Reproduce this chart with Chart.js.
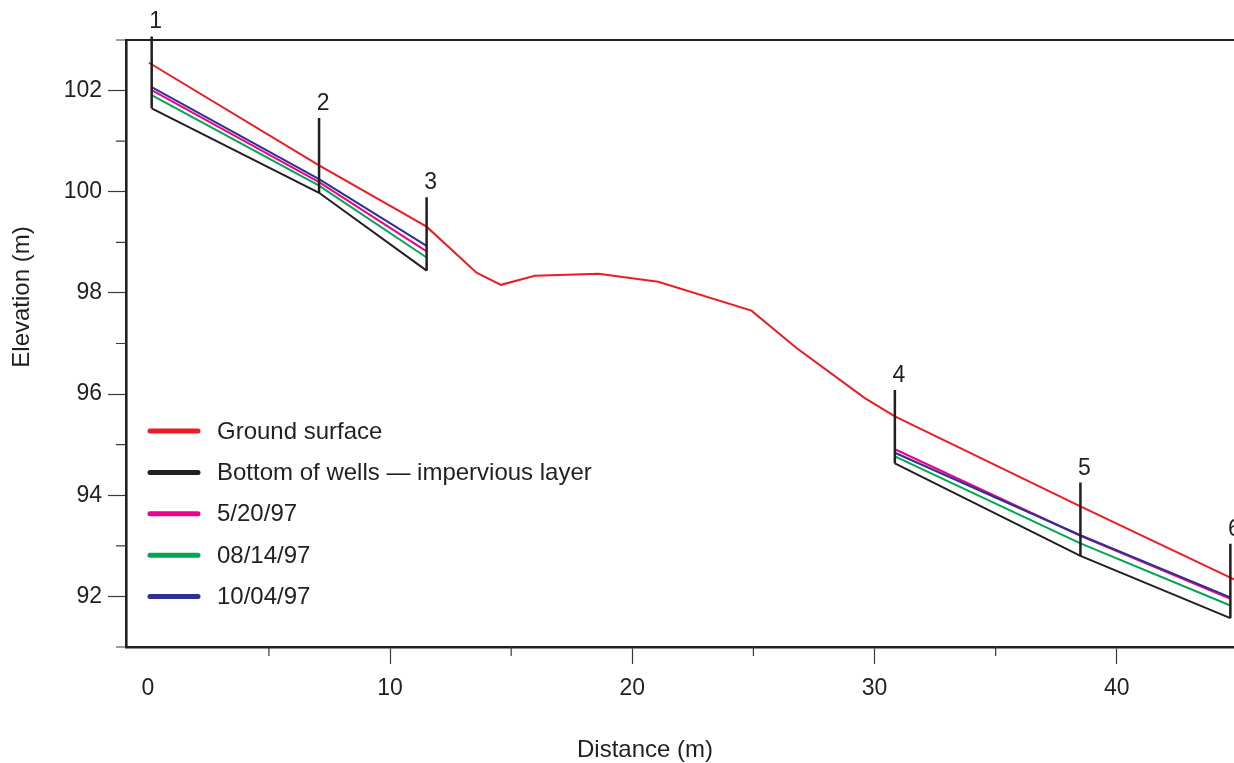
<!DOCTYPE html>
<html>
<head>
<meta charset="utf-8">
<title>Well transect profile</title>
<script src="https://cdn.jsdelivr.net/npm/chart.js@4.4.1/dist/chart.umd.min.js"></script>
<style>
  html, body { margin: 0; padding: 0; background: #fff; }
  #wrap { width: 1234px; height: 763px; }
</style>
</head>
<body>
<div id="wrap"><canvas id="profileChart" width="1234" height="763"></canvas></div>
<script>
// --- Data ---
const groundX = [0.05, 7.07, 11.51, 13.57, 14.58, 15.98, 18.60, 21.07, 24.92, 26.78, 29.60, 30.84, 38.50, 44.69, 45.20];
const groundY = [102.55, 100.52, 99.31, 98.40, 98.16, 98.34, 98.38, 98.22, 97.65, 96.91, 95.92, 95.56, 93.78, 92.37, 92.25];

const wellNames  = ['1', '2', '3', '4', '5', '6'];
const wellX      = [0.16, 7.07, 11.51, 30.84, 38.50, 44.69];
const wellBottom = [101.65, 99.98, 98.44, 94.63, 92.80, 91.57];
const wellTop    = [103.07, 101.46, 99.89, 96.08, 94.25, 93.04];

const levelMay20 = [102.01, 100.19, 98.82, 94.91, 93.20, 91.95];
const levelAug14 = [101.91, 100.12, 98.70, 94.77, 93.05, 91.82];
const levelOct04 = [102.07, 100.25, 98.93, 94.84, 93.21, 91.98];

// wells 1-3 and 4-6 are two separate transect pieces
const wellGroups = [[0, 1, 2], [3, 4, 5]];

const xMajorTicks = [0, 10, 20, 30, 40];
const xMinorTicks = [5, 15, 25, 35];
const yMajorTicks = [92, 94, 96, 98, 100, 102];
const yMinorTicks = [91, 93, 95, 97, 99, 101, 103];

// --- Styles ---
const INK = '#231f20';
const TICK = '#3a3a3a';
const RED = '#ed1c24';
const PINK = '#ec008c';
const GREEN = '#00a651';
const BLUE = '#2e3192';
const FONT = '"Liberation Sans", Arial, Helvetica, sans-serif';

function groupedPoints(values) {
    const pts = [];
    wellGroups.forEach((g, gi) => {
        g.forEach(i => pts.push({ x: wellX[i], y: values[i] }));
        if (gi < wellGroups.length - 1) {
            const next = wellGroups[gi + 1][0];
            pts.push({ x: (wellX[g[g.length - 1]] + wellX[next]) / 2, y: null });
        }
    });
    return pts;
}

function wellPoints() {
    const pts = [];
    wellX.forEach((x, i) => {
        pts.push({ x: x, y: wellBottom[i] });
        pts.push({ x: x, y: wellTop[i] });
        pts.push({ x: x, y: null });
    });
    return pts;
}

// --- Plugins: minor ticks, frame, well numbers, legend, axis titles ---
const decorations = {
    id: 'decorations',
    afterDraw(chart) {
        const { ctx, chartArea: a } = chart;
        const xs = chart.scales.x, ys = chart.scales.y;
        ctx.save();

        // minor ticks
        ctx.strokeStyle = TICK;
        ctx.lineWidth = 1.2;
        ctx.beginPath();
        xMinorTicks.forEach(v => {
            const px = xs.getPixelForValue(v);
            ctx.moveTo(px, a.bottom);
            ctx.lineTo(px, a.bottom + 9);
        });
        yMinorTicks.forEach(v => {
            const py = ys.getPixelForValue(v);
            ctx.moveTo(a.left - 10, py);
            ctx.lineTo(a.left, py);
        });
        ctx.stroke();

        // top frame line
        ctx.strokeStyle = INK;
        ctx.lineWidth = 2.2;
        ctx.beginPath();
        ctx.moveTo(a.left - 1, a.top);
        ctx.lineTo(a.right, a.top);
        ctx.stroke();

        // well numbers
        ctx.fillStyle = INK;
        ctx.font = '23px ' + FONT;
        ctx.textAlign = 'center';
        ctx.textBaseline = 'alphabetic';
        wellX.forEach((x, i) => {
            ctx.fillText(wellNames[i], xs.getPixelForValue(x) + 4, ys.getPixelForValue(wellTop[i]) - 8);
        });

        // legend
        const items = chart.data.datasets.filter(d => d.legendLabel);
        items.sort((p, q) => p.legendRank - q.legendRank);
        ctx.font = '24px ' + FONT;
        ctx.textAlign = 'left';
        ctx.textBaseline = 'middle';
        ctx.lineCap = 'round';
        items.forEach((d, i) => {
            const yy = 431 + i * 41.4;
            ctx.strokeStyle = d.borderColor;
            ctx.lineWidth = 5;
            ctx.beginPath();
            ctx.moveTo(150, yy);
            ctx.lineTo(198, yy);
            ctx.stroke();
            ctx.fillStyle = INK;
            ctx.fillText(d.legendLabel, 217, yy + 1);
        });

        // axis titles
        ctx.font = '24px ' + FONT;
        ctx.fillStyle = INK;
        ctx.textAlign = 'center';
        ctx.textBaseline = 'middle';
        ctx.fillText('Distance (m)', 645, 750);
        ctx.translate(22, 297);
        ctx.rotate(-Math.PI / 2);
        ctx.fillText('Elevation (m)', 0, 0);

        ctx.restore();
    }
};

// --- Chart ---
const chart = new Chart(document.getElementById('profileChart'), {
    type: 'line',
    data: {
        datasets: [
            {
                label: 'wells',
                data: wellPoints(),
                borderColor: INK,
                borderWidth: 2.5,
                spanGaps: false,
                clip: false,
                order: 0
            },
            {
                label: '10/04/97',
                legendLabel: '10/04/97', legendRank: 4,
                data: groupedPoints(levelOct04),
                borderColor: BLUE,
                borderWidth: 2,
                spanGaps: false,
                order: 1
            },
            {
                label: '5/20/97',
                legendLabel: '5/20/97', legendRank: 2,
                data: groupedPoints(levelMay20),
                borderColor: PINK,
                borderWidth: 2,
                spanGaps: false,
                order: 2
            },
            {
                label: '08/14/97',
                legendLabel: '08/14/97', legendRank: 3,
                data: groupedPoints(levelAug14),
                borderColor: GREEN,
                borderWidth: 2,
                spanGaps: false,
                order: 3
            },
            {
                label: 'Bottom of wells',
                legendLabel: 'Bottom of wells \u2014 impervious layer', legendRank: 1,
                data: groupedPoints(wellBottom),
                borderColor: INK,
                borderWidth: 2,
                spanGaps: false,
                order: 4
            },
            {
                label: 'Ground surface',
                legendLabel: 'Ground surface', legendRank: 0,
                data: groundX.map((x, i) => ({ x: x, y: groundY[i] })),
                borderColor: RED,
                borderWidth: 2,
                order: 5
            }
        ]
    },
    options: {
        responsive: false,
        devicePixelRatio: 1,
        animation: false,
        layout: { padding: { top: 40, left: 0, right: 0, bottom: 0 } },
        elements: { point: { radius: 0, hoverRadius: 0 }, line: { tension: 0, fill: false, borderJoinStyle: 'miter' } },
        plugins: { legend: { display: false }, tooltip: { enabled: false } },
        scales: {
            x: {
                type: 'linear',
                min: -0.9,
                max: 44.84,
                afterBuildTicks: s => { s.ticks = xMajorTicks.map(v => ({ value: v })); },
                afterFit: s => { s.height = 116; },
                border: { display: true, color: INK, width: 2.6 },
                grid: {
                    drawOnChartArea: false,
                    drawTicks: true,
                    tickLength: 17,
                    tickWidth: 1.2,
                    tickColor: c => (c.tick && c.tick.value === 0) ? 'rgba(0,0,0,0)' : TICK
                },
                ticks: {
                    color: INK,
                    font: { family: FONT, size: 23 },
                    padding: 11,
                    maxRotation: 0,
                    autoSkip: false,
                    callback: v => String(v)
                }
            },
            y: {
                type: 'linear',
                min: 91,
                max: 103,
                afterBuildTicks: s => { s.ticks = yMajorTicks.map(v => ({ value: v })); },
                afterFit: s => { s.width = 126; },
                border: { display: true, color: INK, width: 2.6 },
                grid: {
                    drawOnChartArea: false,
                    drawTicks: true,
                    tickLength: 18,
                    tickWidth: 1.2,
                    tickColor: TICK
                },
                ticks: {
                    color: INK,
                    font: { family: FONT, size: 23 },
                    padding: 6,
                    autoSkip: false,
                    callback: v => String(v)
                }
            }
        }
    },
    plugins: [decorations]
});
</script>
</body>
</html>
